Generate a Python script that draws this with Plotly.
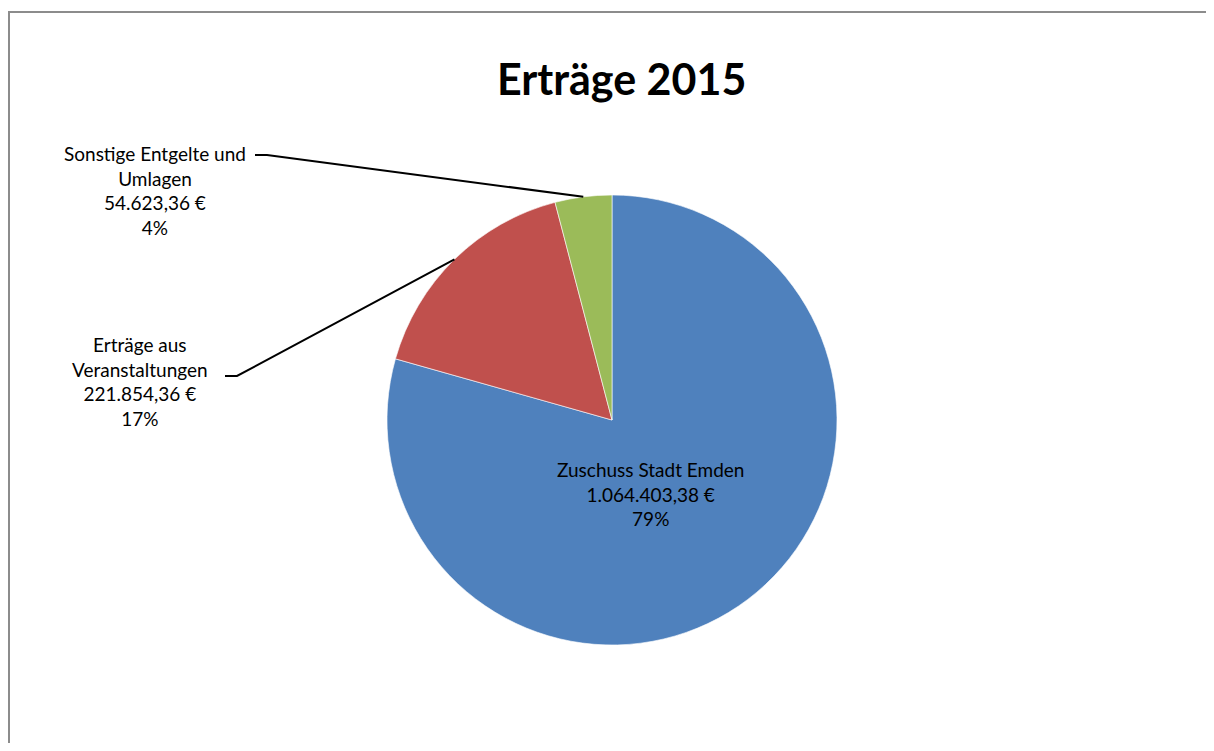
import math
import plotly.graph_objects as go

# Data
categories = ["Zuschuss Stadt Emden", "Erträge aus Veranstaltungen", "Sonstige Entgelte und Umlagen"]
label_lines = [["Zuschuss Stadt Emden"], ["Erträge aus", "Veranstaltungen"], ["Sonstige Entgelte und", "Umlagen"]]
values = [1064403.38, 221854.36, 54623.36]
value_text = ["1.064.403,38 €", "221.854,36 €", "54.623,36 €"]
colors = ["#4F81BD", "#C0504D", "#9BBB59"]

OFF = 8  # page body margin offset
W, H = 1214 - 2 * OFF, 751 - 2 * OFF
CX, CY, R = 612 - OFF, 420 - OFF, 225  # pie centre / radius in px (figure coords)
FONT = "Lato, Open Sans, sans-serif"

def px(x):
    return x / W

def py(y):
    return 1 - y / H

total = sum(values)
pcts = [v / total for v in values]

fig = go.Figure()
fig.add_trace(go.Pie(
    labels=categories, values=values, sort=False, direction="clockwise", rotation=0,
    marker=dict(colors=colors, line=dict(color="rgba(255,255,255,0.6)", width=1)),
    textinfo="none", hoverinfo="label+value+percent", showlegend=False,
    domain=dict(x=[px(CX - R), px(CX + R)], y=[py(CY + R), py(CY - R)]),
))

def label_text(i):
    return "<br>".join(label_lines[i] + [value_text[i], f"{round(pcts[i]*100)}%"])

def ann(x, y, text, size):
    return dict(x=px(x - OFF), y=py(y - OFF), xref="paper", yref="paper", text=text, showarrow=False,
                xanchor="center", yanchor="middle",
                font=dict(family=FONT, size=size, color="black"), align="center")

annotations = [
    ann(650, 494, label_text(0), 19),
    ann(140, 381, label_text(1), 19),
    ann(155, 190, label_text(2), 19),
    ann(622, 78, "<b>Erträge 2015</b>", 43),
]

# leader lines: from label end to slice midpoint on the rim
shapes = []
cum = 0
mids = []
for p in pcts:
    mids.append((cum + p / 2) * 2 * math.pi)
    cum += p
label_anchor = {1: (225 - OFF, 376 - OFF), 2: (255 - OFF, 155 - OFF)}
for i, (lx, ly) in label_anchor.items():
    a = mids[i]
    ex = CX + R * math.sin(a)
    ey = CY - R * math.cos(a)
    path = f"M {px(lx)},{py(ly)} L {px(lx+12)},{py(ly)} L {px(ex)},{py(ey)}"
    shapes.append(dict(type="path", xref="paper", yref="paper", path=path,
                       line=dict(color="black", width=2)))

# chart frame (only left and top edges are visible in the window)
shapes.append(dict(type="path", xref="paper", yref="paper",
                   path=f"M {px(1)},{py(H + 40)} L {px(1)},{py(12 - OFF)} L {px(W + 40)},{py(12 - OFF)}",
                   line=dict(color="#8c8c8c", width=2)))

fig.update_layout(
    width=W, height=H, margin=dict(l=0, r=0, t=0, b=0),
    paper_bgcolor="white", plot_bgcolor="white",
    annotations=annotations, shapes=shapes,
)
fig.write_html("out.html")
